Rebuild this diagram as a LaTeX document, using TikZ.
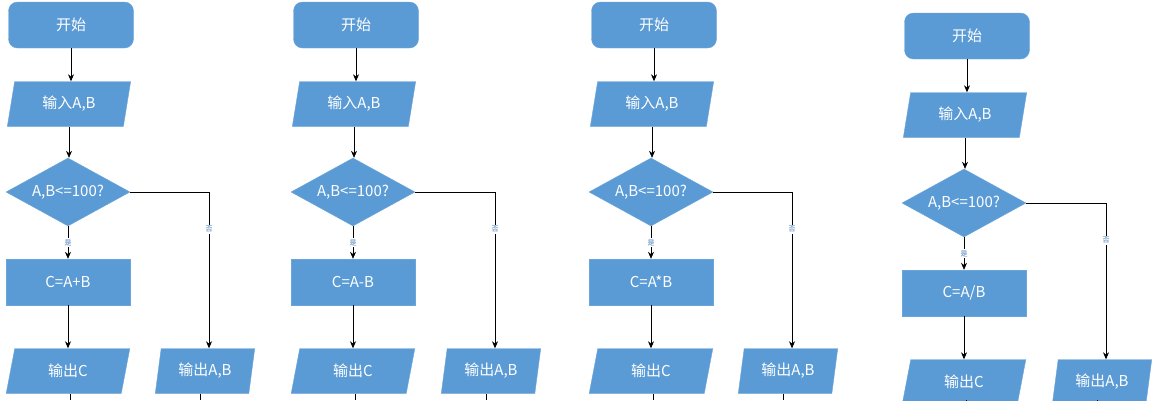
\documentclass[tikz,border=0pt]{standalone}
\usepackage{fontspec}
\setmainfont{Noto Sans CJK SC}
\usetikzlibrary{shapes.geometric,arrows.meta}
\definecolor{fc}{HTML}{5B9BD5}
\definecolor{lab}{HTML}{4A7DB8}
\tikzset{
  base/.style={fill=fc,draw=fc!90!white,text=white,font=\fontsize{15}{17}\selectfont,inner sep=0pt},
  term/.style={base,rectangle,rounded corners=9pt,minimum width=125pt,minimum height=46pt},
  io/.style={base,trapezium,trapezium left angle=77,trapezium right angle=103,trapezium stretches=true,minimum width=124pt,minimum height=45pt},
  iob/.style={io,minimum width=100pt},
  proc/.style={base,rectangle,minimum width=124pt,minimum height=46pt},
  dec/.style={base,diamond,aspect=1.82,minimum width=124pt,minimum height=68pt},
  arr/.style={draw=black,-{Stealth[length=7pt,width=6pt]},line width=0.7pt},
  ln/.style={draw=black,line width=0.7pt},
  yl/.style={font=\fontsize{7}{8}\selectfont,text=lab,fill=white,inner sep=1pt}
}
\newcommand\mychart[5]{%
\begin{scope}[shift={(#1,#2)}]
  \node[term] (#5s) at (71,25) {开始};
  \node[io] (#5i) at (69,104) {输入A,B};
  \node[dec] (#5d) at (68,192) {A,B<=100?};
  \node[proc] (#5p) at (68,282) {#3};
  \node[io] (#5c) at (68,371) {输出C};
  \node[iob] (#5o) at (#4,371) {输出A,B};
  \coordinate (#5e1) at (70,{400-#2});
  \coordinate (#5e2) at ({#4-5},{400-#2});
  \draw[arr] (#5s.south) -- (#5s.south |- #5i.north);
  \draw[arr] (#5i.south) -- (#5i.south |- #5d.north);
  \draw[arr] (#5d.south) -- node[yl] (#5y) {是} (#5p.north);
  \draw[arr] (#5d.east) -| node[yl,pos=0.62] (#5n) {否} ([xshift=4pt]#5o.north);
  \draw[arr] (#5p.south) -- (#5p.south |- #5c.north);
  \draw[ln] (#5c.south -| #5e1) -- (#5e1);
  \draw[ln] (#5o.south -| #5e2) -- (#5e2);
\end{scope}}
\begin{document}
\begin{tikzpicture}[x=1pt,y=-1pt]
\useasboundingbox (0,0) rectangle (1157,400);
\mychart{0}{0}{C=A+B}{205}{a}
\mychart{285}{0}{C=A-B}{206}{b}
\mychart{583}{0}{C=A*B}{205}{c}
\mychart{896}{11}{C=A/B}{206}{d}
\end{tikzpicture}
\end{document}
